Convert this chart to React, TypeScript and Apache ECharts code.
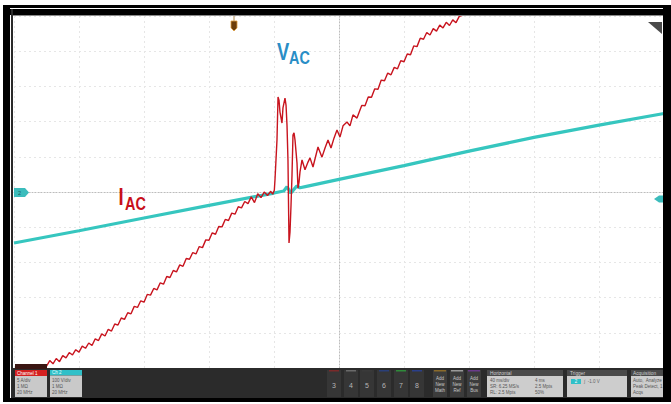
import React, { useEffect, useRef } from "react";
import * as echarts from "echarts";

// Oscilloscope screen: time in divisions (-5..5), amplitude in divisions (-5..5)
const xDivRange = [-5, 5];
const yDivRange = [-5, 5];

// I_AC trace (red) [time div, amplitude div]
const iacTrace: [number, number][] = [
  [-4.6, -5.14], [-4.55, -4.96], [-4.5, -4.95], [-4.45, -4.79], [-4.4, -4.88], [-4.35, -4.73], [-4.3, -4.82],
  [-4.25, -4.65], [-4.2, -4.71], [-4.15, -4.56], [-4.1, -4.63], [-4.05, -4.48], [-4.0, -4.55], [-3.95, -4.38],
  [-3.9, -4.44], [-3.85, -4.29], [-3.8, -4.36], [-3.75, -4.17], [-3.7, -4.22], [-3.65, -4.03], [-3.6, -4.09],
  [-3.55, -3.9], [-3.5, -3.95], [-3.45, -3.75], [-3.4, -3.78], [-3.35, -3.58], [-3.3, -3.62], [-3.25, -3.43],
  [-3.2, -3.46], [-3.15, -3.25], [-3.1, -3.28], [-3.05, -3.09], [-3.0, -3.13], [-2.95, -2.91], [-2.9, -2.93],
  [-2.85, -2.74], [-2.8, -2.78], [-2.75, -2.58], [-2.7, -2.62], [-2.65, -2.4], [-2.6, -2.43], [-2.55, -2.23],
  [-2.5, -2.27], [-2.45, -2.07], [-2.4, -2.11], [-2.35, -1.89], [-2.3, -1.91], [-2.25, -1.72], [-2.2, -1.76],
  [-2.15, -1.55], [-2.1, -1.58], [-2.05, -1.36], [-2.0, -1.37], [-1.95, -1.16], [-1.9, -1.2], [-1.85, -0.98],
  [-1.8, -0.99], [-1.75, -0.78], [-1.7, -0.81], [-1.65, -0.6], [-1.6, -0.63], [-1.55, -0.42], [-1.5, -0.45],
  [-1.45, -0.27], [-1.4, -0.33], [-1.35, -0.14], [-1.3, -0.3], [-1.25, -0.05], [-1.2, -0.16], [-1.15, 0.0],
  [-1.1, -0.1], [-1.05, 0.02], [-1.02, -0.06], [-0.995, 0.05],
  [-0.985, 0.34], [-0.954, 1.48], [-0.938, 2.7], [-0.923, 2.61], [-0.908, 2.27], [-0.877, 1.96], [-0.862, 2.39],
  [-0.831, 2.67], [-0.815, 2.47], [-0.8, 1.9], [-0.785, 0.91], [-0.769, -1.45], [-0.754, -1.14], [-0.738, -0.37],
  [-0.723, 0.48], [-0.708, 1.62], [-0.692, 1.68], [-0.677, 1.48], [-0.646, 0.82], [-0.631, 0.11], [-0.615, 0.28],
  [-0.6, 0.57], [-0.569, 0.91],
  [-0.523, 0.63], [-0.477, 0.85], [-0.446, 0.97], [-0.4, 0.71], [-0.354, 1.05], [-0.323, 1.28], [-0.262, 0.99],
  [-0.215, 1.25], [-0.169, 1.48], [-0.123, 1.25], [-0.077, 1.53], [-0.031, 1.76], [0.015, 1.56], [0.062, 1.88],
  [0.123, 1.99], [0.169, 1.88], [0.215, 2.19], [0.277, 2.1], [0.323, 2.33],
  [0.35, 2.46], [0.4, 2.45], [0.45, 2.7], [0.5, 2.69], [0.55, 2.93], [0.6, 2.92], [0.65, 3.18], [0.7, 3.16],
  [0.75, 3.38], [0.8, 3.33], [0.85, 3.54], [0.9, 3.5], [0.95, 3.73], [1.0, 3.7], [1.05, 3.92], [1.1, 3.9],
  [1.15, 4.15], [1.2, 4.13], [1.25, 4.37], [1.3, 4.34], [1.35, 4.53], [1.4, 4.46], [1.45, 4.64], [1.5, 4.57],
  [1.55, 4.74], [1.6, 4.66], [1.65, 4.82], [1.7, 4.73], [1.75, 4.89], [1.8, 4.81], [1.85, 4.99], [1.9, 5.02],
  [1.95, 5.15],
];

// V_AC trace (cyan) [time div, amplitude div]
const vacTrace: [number, number][] = [
  [-5.0, -1.45], [-4.0, -1.1], [-3.0, -0.74], [-2.0, -0.38], [-1.0, -0.03], [-0.85, 0.03], [-0.8, 0.15],
  [-0.77, 0.06], [-0.74, -0.03], [-0.7, 0.06], [-0.65, 0.17], [-0.6, 0.12], [-0.5, 0.16], [0.0, 0.36],
  [1.0, 0.75], [2.0, 1.16], [3.0, 1.55], [4.0, 1.9], [5.0, 2.23],
];

const channelButtons = ["3", "4", "5", "6", "7", "8"];
const channelButtonColors = ["#7a2a2a", "#6a6a6a", "#3a3a3a", "#2a3f78", "#2f8a3a", "#2a3f8a"];
const addNewLabels = ["Math", "Ref", "Bus"];
const addNewColors = ["#8a6a2a", "#9a9a9a", "#6a3a8a"];

const RED = "#c8141e";
const CYAN = "#36c6bf";
const FONT = "'Liberation Sans', Arial, sans-serif";

function rect(x: number, y: number, w: number, h: number, fill: string, z = 50): any {
  return { type: "rect", z, silent: true, shape: { x, y, width: w, height: h }, style: { fill } };
}
function txt(x: number, y: number, text: string, size: number, fill: string, align = "left", z = 60, weight = "normal"): any {
  return {
    type: "text", z, silent: true, x, y,
    style: { text, x: 0, y: 0, fill, fontSize: size, fontFamily: FONT, fontWeight: weight, align, verticalAlign: "middle" },
  };
}

function buildGraphics(): any[] {
  const g: any[] = [];
  // frame
  g.push(rect(3, 5, 668, 3, "#000"));
  g.push(rect(3, 9, 668, 6, "#000"));
  g.push(rect(13, 15, 650, 1, "#8a8a8a"));
  g.push(rect(3, 5, 7, 397, "#000"));
  g.push(rect(11, 9, 2, 392, "#2a2a2a"));
  g.push(rect(663, 5, 8, 397, "#000"));
  g.push(rect(3, 398, 668, 4, "#000"));
  // status bar
  g.push(rect(13, 368, 650, 30, "#2b2b2b"));
  // Ch1 box
  g.push(rect(15, 364, 32, 5, "#3a1612", 51));
  g.push(rect(15, 370, 32, 6, "#d42020", 51));
  g.push(rect(15, 376, 32, 21, "#c9c9c9", 51));
  g.push(txt(17, 373, "Channel 1", 4.5, "#ffffff"));
  g.push(txt(17, 380.5, "5 A/div", 4.5, "#555"));
  g.push(txt(17, 386.5, "1 MΩ", 4.5, "#555"));
  g.push(txt(17, 392.5, "20 MHz", 4.5, "#555"));
  // Ch2 box
  g.push(rect(50, 370, 32, 5.5, "#30c0c8", 51));
  g.push(rect(50, 375.5, 32, 21.5, "#c9c9c9", 51));
  g.push(txt(52, 372.8, "Ch 2", 4.5, "#e8ffff"));
  g.push(txt(52, 380.5, "100 V/div", 4.5, "#555"));
  g.push(txt(52, 386.5, "1 MΩ", 4.5, "#555"));
  g.push(txt(52, 392.5, "20 MHz", 4.5, "#555"));
  // channel buttons
  const btnX = [327, 344, 360, 377, 394, 410];
  channelButtons.forEach((label, i) => {
    g.push(rect(btnX[i], 370, 14, 27, "#363636", 51));
    g.push(rect(btnX[i] + 2, 370, 10, 1.5, channelButtonColors[i], 52));
    g.push(txt(btnX[i] + 7, 385, label, 7, "#b5b5b5", "center"));
  });
  // add new buttons
  const addX = [433, 450, 467];
  addNewLabels.forEach((label, i) => {
    g.push(rect(addX[i], 370, 14, 27, "#3c3c3c", 51));
    g.push(rect(addX[i] + 1, 370, 12, 1.5, addNewColors[i], 52));
    g.push(txt(addX[i] + 7, 378, "Add", 4.5, "#c8c8c8", "center"));
    g.push(txt(addX[i] + 7, 384, "New", 4.5, "#c8c8c8", "center"));
    g.push(txt(addX[i] + 7, 390, label, 4.5, "#c8c8c8", "center"));
  });
  // Horizontal box
  g.push(rect(487, 370, 76, 6, "#4a4a4a", 51));
  g.push(rect(487, 376, 76, 21, "#cdcdcd", 51));
  g.push(txt(490, 373, "Horizontal", 4.8, "#cfcfcf"));
  g.push(txt(490, 380.5, "40 ms/div", 4.5, "#555"));
  g.push(txt(535, 380.5, "4 ms", 4.5, "#555"));
  g.push(txt(490, 386.5, "SR: 6.25 MS/s", 4.5, "#555"));
  g.push(txt(535, 386.5, "2.5 Mpts", 4.5, "#555"));
  g.push(txt(490, 392.5, "RL: 2.5 Mpts", 4.5, "#555"));
  g.push(txt(535, 392.5, "50%", 4.5, "#555"));
  // Trigger box
  g.push(rect(567, 370, 60, 6, "#4a4a4a", 51));
  g.push(rect(567, 376, 60, 21, "#cdcdcd", 51));
  g.push(txt(570, 373, "Trigger", 4.8, "#cfcfcf"));
  g.push(rect(571, 379, 10, 5, "#30c0c8", 52));
  g.push(txt(576, 381.5, "2", 4.5, "#ffffff", "center"));
  g.push(txt(584, 381.5, "∫  -1.0 V", 4.5, "#666"));
  // Acquisition box
  g.push(rect(631, 370, 32, 6, "#4a4a4a", 51));
  g.push(rect(631, 376, 32, 21, "#cdcdcd", 51));
  g.push(txt(633, 373, "Acquisition", 4.8, "#cfcfcf"));
  g.push(txt(633, 380.5, "Auto,  Analyze", 4.5, "#555"));
  g.push(txt(633, 386.5, "Peak Detect, 1", 4.5, "#555"));
  g.push(txt(633, 392.5, "Acqs", 4.5, "#555"));
  // markers
  g.push({ type: "polygon", z: 55, silent: true, shape: { points: [[14, 188], [25, 188], [29, 192.5], [25, 197], [14, 197]] }, style: { fill: "#3bbcbc" } });
  g.push(txt(19.5, 192.6, "2", 5.5, "#1c5c5c", "center"));
  g.push({ type: "polygon", z: 55, silent: true, shape: { points: [[654, 199], [659, 195.5], [663, 195.5], [663, 202.5], [659, 202.5]] }, style: { fill: "#3bbcbc" } });
  g.push(rect(233.5, 16, 1, 5, "#b08a50", 55));
  g.push({ type: "polygon", z: 55, silent: true, shape: { points: [[231, 21], [237, 21], [237, 28], [234, 31], [231, 28]] }, style: { fill: "#6b3d0c", stroke: "#e0a040", lineWidth: 0.8 } });
  g.push({ type: "polygon", z: 55, silent: true, shape: { points: [[648, 22], [662, 22], [662, 34]] }, style: { fill: "#4a4a4a" } });
  // trace labels
  g.push({ type: "text", z: 70, silent: true, x: 277, y: 51.5, scaleX: 0.8,
    style: { text: "V", x: 0, y: 0, fill: "#2a8ec6", fontSize: 23, fontWeight: "bold", fontFamily: FONT, align: "left", verticalAlign: "middle" } });
  g.push({ type: "text", z: 70, silent: true, x: 289, y: 57, scaleX: 0.8,
    style: { text: "AC", x: 0, y: 0, fill: "#2a8ec6", fontSize: 18, fontWeight: "bold", fontFamily: FONT, align: "left", verticalAlign: "middle" } });
  g.push({ type: "text", z: 70, silent: true, x: 118.5, y: 196.5, scaleX: 0.8,
    style: { text: "I", x: 0, y: 0, fill: "#c8101a", fontSize: 23, fontWeight: "bold", fontFamily: FONT, align: "left", verticalAlign: "middle" } });
  g.push({ type: "text", z: 70, silent: true, x: 125, y: 203, scaleX: 0.8,
    style: { text: "AC", x: 0, y: 0, fill: "#c8101a", fontSize: 18, fontWeight: "bold", fontFamily: FONT, align: "left", verticalAlign: "middle" } });
  return g;
}

export default function App() {
  const ref = useRef<HTMLDivElement>(null);
  useEffect(() => {
    document.body.style.margin = "0";
    const chart = echarts.init(ref.current!, null, { renderer: "svg" });
    const gridLine = { show: true, lineStyle: { color: "#e6e6e6", width: 1, type: [2, 3] } };
    const centerLine = { show: true, onZero: true, lineStyle: { color: "#bcbcbc", width: 1, type: [1, 2] } };
    chart.setOption({
      animation: false,
      backgroundColor: "#ffffff",
      grid: { left: 14, top: 16, width: 650, height: 352, containLabel: false, outerBoundsMode: "none" },
      xAxis: {
        type: "value", min: xDivRange[0], max: xDivRange[1], interval: 1,
        axisLine: centerLine, axisTick: { show: false }, axisLabel: { show: false }, splitLine: gridLine,
      },
      yAxis: {
        type: "value", min: yDivRange[0], max: yDivRange[1], interval: 1,
        axisLine: centerLine, axisTick: { show: false }, axisLabel: { show: false }, splitLine: gridLine,
      },
      series: [
        { name: "VAC", type: "line", data: vacTrace, showSymbol: false, symbol: "none", clip: true, z: 2,
          lineStyle: { color: CYAN, width: 3.2 } },
        { name: "IAC", type: "line", data: iacTrace, showSymbol: false, symbol: "none", clip: true, z: 3,
          lineStyle: { color: RED, width: 1.4 } },
      ],
      graphic: { elements: buildGraphics() },
    });
    return () => chart.dispose();
  }, []);
  return <div ref={ref} style={{ position: "absolute", left: 0, top: 0, width: 671, height: 404, background: "#fff" }} />;
}
